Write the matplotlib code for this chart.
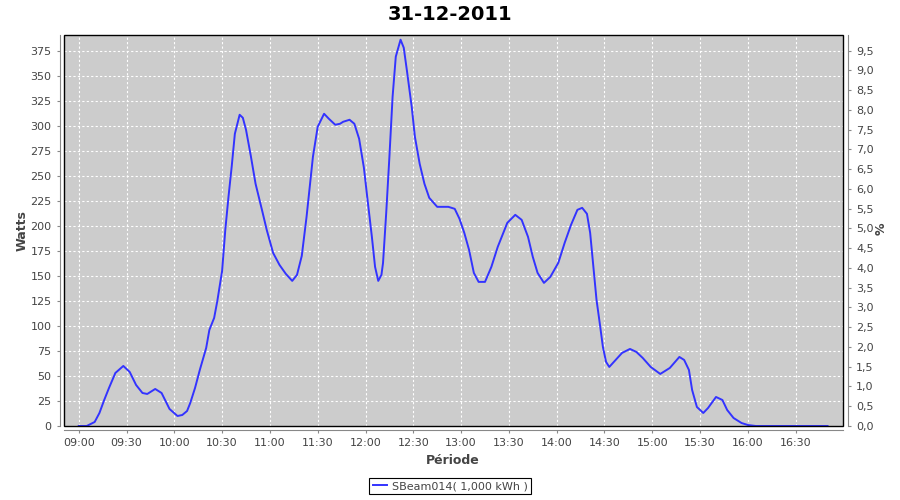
import numpy as np
import matplotlib
matplotlib.use("Agg")
from matplotlib import pyplot as plt
from matplotlib.ticker import FuncFormatter, MultipleLocator
from matplotlib.patches import Rectangle

# values
times = [
    "09:00", "09:05", "09:10", "09:13", "09:16", "09:19", "09:23", "09:28",
    "09:32", "09:36", "09:40", "09:43", "09:48", "09:52", "09:57", "10:02",
    "10:05", "10:08", "10:10", "10:13", "10:16", "10:20", "10:22", "10:25",
    "10:27", "10:30", "10:32", "10:34", "10:36", "10:38", "10:41", "10:43",
    "10:45", "10:48", "10:51", "10:55", "10:58", "11:02", "11:06", "11:10",
    "11:14", "11:17", "11:20", "11:23", "11:25", "11:27", "11:30", "11:34",
    "11:37", "11:41", "11:44", "11:46", "11:50", "11:53", "11:56", "11:59",
    "12:01", "12:04", "12:06", "12:08", "12:10", "12:11", "12:13", "12:15",
    "12:17", "12:19", "12:22", "12:24", "12:26", "12:29", "12:31", "12:34",
    "12:37", "12:40", "12:45", "12:52", "12:56", "12:59", "13:02", "13:05",
    "13:08", "13:11", "13:15", "13:19", "13:23", "13:29", "13:34", "13:38",
    "13:42", "13:45", "13:48", "13:52", "13:56", "14:01", "14:05", "14:09",
    "14:13", "14:16", "14:19", "14:21", "14:23", "14:25", "14:27", "14:29",
    "14:31", "14:33", "14:37", "14:41", "14:46", "14:50", "14:54", "14:59",
    "15:05", "15:11", "15:17", "15:20", "15:23", "15:25", "15:28", "15:32",
    "15:35", "15:40", "15:44", "15:47", "15:51", "15:56", "16:00", "16:05",
    "16:50",
]
watts = [
    0, 0, 4, 13, 26, 38, 53, 60,
    54, 41, 33, 32, 37, 33, 17, 10,
    11, 15, 23, 38, 56, 78, 96, 108,
    125, 155, 196, 229, 259, 292, 311, 308,
    296, 270, 242, 216, 196, 173, 161, 152,
    145, 151, 170, 209, 239, 269, 299, 312,
    307, 301, 302, 304, 306, 302, 287, 258,
    230, 189, 159, 145, 151, 163, 213, 269,
    329, 369, 386, 378, 355, 319, 289, 262,
    242, 228, 219, 219, 217, 207, 193, 176,
    153, 144, 144, 159, 179, 203, 211, 206,
    189, 169, 153, 143, 149, 163, 183, 201,
    216, 218, 212, 193, 159, 126, 103, 79,
    64, 59, 66, 73, 77, 74, 68, 59,
    52, 58, 69, 66, 56, 36, 19, 13,
    18, 29, 26, 16, 8, 3, 1, 0,
    0,
]
series_label = "SBeam014( 1,000 kWh )"
title = "31-12-2011"

hours = np.array([int(t[:2]) + int(t[3:]) / 60 for t in times])
watts = np.array(watts, dtype=float)

grey_txt = "#444444"
axis_grey = "#888888"

fig = plt.figure(figsize=(9, 5), dpi=100)
ax = fig.add_axes([64 / 900, 74 / 500, 779 / 900, 391 / 500])
ax.set_facecolor("#cccccc")

line, = ax.plot(hours, watts, color="#3333ff", lw=1.4, zorder=3)

ax.set_xlim(8.846, 16.995)
ax.set_ylim(0, 390.7)
ax.xaxis.set_major_locator(MultipleLocator(0.5))
ax.xaxis.set_major_formatter(FuncFormatter(
    lambda v, p: "%02d:%02d" % divmod(int(round(v * 60)), 60)))
ax.yaxis.set_major_locator(MultipleLocator(25))

ax.grid(True, color="white", linestyle=(0, (2, 2)), linewidth=0.8)
ax.set_axisbelow(True)

# secondary axis in %
ax2 = ax.twinx()
ax2.set_ylim(0, 390.7 / (375 / 9.5))
ax2.yaxis.set_major_locator(MultipleLocator(0.5))
ax2.yaxis.set_major_formatter(FuncFormatter(lambda v, p: ("%.1f" % v).replace(".", ",")))

for a in (ax, ax2):
    for s in a.spines.values():
        s.set_visible(False)
    a.tick_params(colors=axis_grey, labelcolor=grey_txt, labelsize=8, length=2.5, width=0.8)

for name in ("left", "bottom"):
    ax.spines[name].set_visible(True)
    ax.spines[name].set_position(("outward", 3))
    ax.spines[name].set_color(axis_grey)
ax2.spines["right"].set_visible(True)
ax2.spines["right"].set_position(("outward", 3.5))
ax2.spines["right"].set_color(axis_grey)

# black plot outline
ax.add_patch(Rectangle((0, 0), 1, 1, transform=ax.transAxes, fill=False,
                       edgecolor="black", lw=1.0, zorder=5, clip_on=False))

fig.text(0.5, 1 - 14 / 500, title, ha="center", va="center",
         fontsize=14, fontweight="bold", color="black")
fig.text(22 / 900, 1 - 231 / 500, "Watts", rotation=90, ha="center", va="center",
         fontsize=9, fontweight="bold", color=grey_txt)
fig.text(881 / 900, 1 - 229 / 500, "%", rotation=90, ha="center", va="center",
         fontsize=9, fontweight="bold", color=grey_txt)
fig.text(453 / 900, 1 - 460 / 500, "Période", ha="center", va="center",
         fontsize=9, fontweight="bold", color=grey_txt)

leg = fig.legend([line], [series_label], loc="lower center",
                 bbox_to_anchor=(0.5, 0.0), frameon=True, fancybox=False,
                 edgecolor="black", framealpha=1, fontsize=8,
                 handlelength=1.3, borderpad=0.3, handletextpad=0.4)
leg.get_frame().set_linewidth(0.8)
for t in leg.get_texts():
    t.set_color(grey_txt)

fig.savefig("out.png", dpi=100)
plt.close(fig)
